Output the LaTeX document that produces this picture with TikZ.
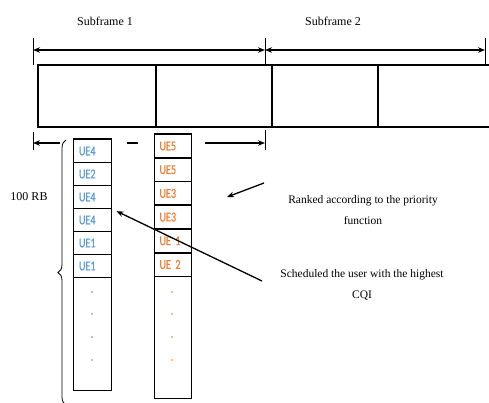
\documentclass[tikz,border=0pt]{standalone}
\usepackage{fontspec}
\setmainfont{Liberation Serif}
\newfontfamily\uefont[FakeStretch=0.75,FakeBold=0.6]{Carlito}
\usetikzlibrary{arrows.meta,decorations.pathreplacing}
\definecolor{ueblue}{RGB}{91,155,213}
\definecolor{ueorange}{RGB}{237,125,49}

\begin{document}
\begin{tikzpicture}[x=1pt, y=-1pt, >={Stealth[length=7pt,width=5.5pt]},
  dimline/.style={line width=1.3pt},
  cell/.style={draw, line width=1pt, minimum height=23pt, inner sep=0pt, anchor=north west, font=\uefont\fontsize{13.5}{14}\selectfont, text width=27pt, align=left},
  note/.style={align=center, font=\fontsize{11.5}{21}\selectfont}]
\useasboundingbox (0,0) rectangle (489,403);

\node (sf1) at (105,21) {\fontsize{12}{14}\selectfont Subframe 1};
\node (sf2) at (333,21) {\fontsize{12}{14}\selectfont Subframe 2};

\coordinate (t0) at (33,50);
\coordinate (t1) at (265,50);
\coordinate (t2) at (485,50);
\foreach \t in {t0,t1,t2}
  \draw[line width=1pt] ([yshift=-15pt]\t) -- ([yshift=12pt]\t);
\draw[dimline,<->] (t0) -- (t1);
\draw[dimline,<->] (t1) -- (t2);

\draw[line width=1.3pt] (492,65) -- (38,65) -- (38,127) -- (492,127);
\foreach \x in {156,272,378}
  \draw[line width=1.3pt] (\x,65) -- (\x,127);

\coordinate (b0) at (33,143);
\coordinate (b1) at (265,143);
\draw[line width=1pt] (33,132) -- (33,150);
\draw[line width=1pt] (265,130) -- (265,150);
\draw[dimline,<-] (b0) -- (60,143);
\draw[dimline] (127,143) -- (138,143);
\draw[dimline,->] (205,143) -- (b1);

\draw[line width=1pt] (73,139) rectangle (111,390);
\draw[line width=1pt] (154,134) rectangle (191,398);
\foreach \u [count=\i] in {UE4,UE2,UE4,UE4,UE1,UE1}
  \node[cell, minimum width=38pt, text=ueblue] (l\i) at (73,{139+23*(\i-1)}) {\u};
\foreach \u [count=\i] in {UE5,UE5,UE3,UE3,UE 1,UE 2}
  \node[cell, minimum width=37pt, text=ueorange] (r\i) at (154,{134+23.7*(\i-1)}) {\u};
\foreach \y in {292,314,337,360} {
  \fill[gray] (92,\y) circle (0.8pt);
  \fill[ueorange] (172,\y) circle (0.8pt);
}

\draw[line width=0.8pt, decorate, decoration={brace, amplitude=8pt}] (66,405) -- (66,140);
\node (rb) at (29,197) {\fontsize{12}{14}\selectfont 100 RB};

\node[note] (rank) at (363,210) {Ranked according to the priority\\function};
\node[note] (sched) at (362,285) {Scheduled the user with the highest\\CQI};

\coordinate (a1) at (264,183);
\coordinate (a2) at (262,281);
\draw[dimline,->] (a1) -- (227,197);
\draw[dimline,->,shorten >=5pt] (a2) -- (l3.south east);

\end{tikzpicture}
\end{document}
